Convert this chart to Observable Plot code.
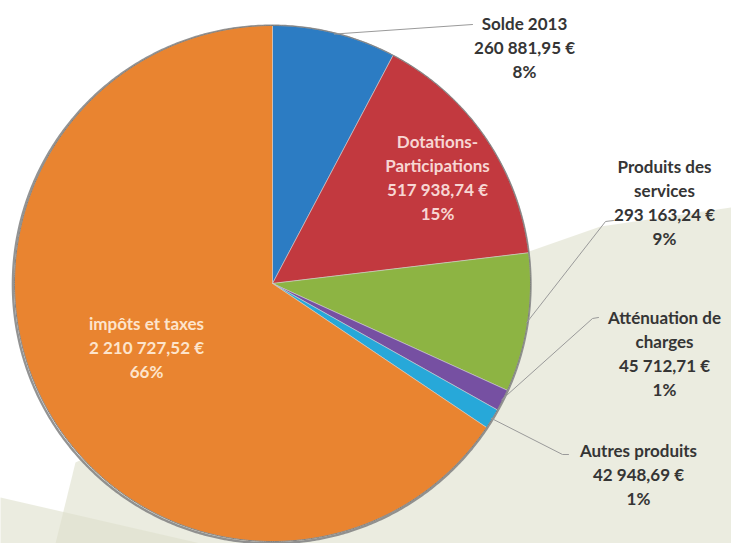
<!DOCTYPE html>
<html>
<head>
<meta charset="utf-8">
<script src="https://cdn.jsdelivr.net/npm/d3@7"></script>
<script src="https://cdn.jsdelivr.net/npm/@observablehq/plot@0.6"></script>
<style>
  html, body { margin: 0; padding: 0; background: #ffffff; }
  #chart svg { display: block; }
</style>
</head>
<body>
<div id="chart"></div>
<script>
// ---- Data ----
const categories = ["Solde 2013", "Dotations-\nParticipations", "Produits des\nservices", "Atténuation de\ncharges", "Autres produits", "impôts et taxes"];
const values = [260881.95, 517938.74, 293163.24, 45712.71, 42948.69, 2210727.52];
const valueLabels = ["260 881,95 €", "517 938,74 €", "293 163,24 €", "45 712,71 €", "42 948,69 €", "2 210 727,52 €"];
const percentLabels = ["8%", "15%", "9%", "1%", "1%", "66%"];
const colors = ["#2c7cc3", "#c2393f", "#8db443", "#7650a2", "#27a8d9", "#e98430"];

// ---- Layout (pixel-like data space) ----
const W = 731, H = 543;
const cx = 272, cy = 283, R = 258;
// label anchor positions and styles
const labelPos = [
  {x: 524, y: 46, fill: "#353535"},
  {x: 437, y: 176, fill: "#f7d6d3"},
  {x: 664, y: 201, fill: "#353535"},
  {x: 664, y: 352, fill: "#353535"},
  {x: 638, y: 473, fill: "#353535"},
  {x: 146, y: 346, fill: "#fde4cc"}
];
// leader line elbows (null = no leader)
const leaderPts = [
  [[472, 24]],
  null,
  [[605, 221], [613, 220]],
  [[592, 318], [598, 317]],
  [[562, 454], [568, 454]],
  null
];

// ---- Pie geometry from the data ----
const total = d3.sum(values);
let acc = 0;
const slices = values.map((v, i) => {
  const a0 = acc / total * 2 * Math.PI;
  acc += v;
  const a1 = acc / total * 2 * Math.PI;
  return {i, a0, a1, mid: (a0 + a1) / 2};
});
const pt = (a, r) => ({x: cx + r * Math.sin(a), y: cy - r * Math.cos(a)});
function slicePoly(s) {
  const pts = [{x: cx, y: cy}];
  const n = Math.max(2, Math.ceil((s.a1 - s.a0) / (Math.PI / 360)));
  for (let k = 0; k <= n; k++) pts.push(pt(s.a0 + (s.a1 - s.a0) * k / n, R));
  pts.push({x: cx, y: cy});
  return pts;
}
const circlePts = d3.range(0, 721).map(k => pt(k / 720 * 2 * Math.PI, R));
const shadowPts = d3.range(0, 721).map(k => {
  const p = pt(k / 720 * 2 * Math.PI, R + 0.8);
  return {x: p.x - 0.8, y: p.y + 1};
});

// background shapes
const bgA = [{x:75,y:462},{x:520,y:254},{x:600,y:226},{x:731,y:207},{x:731,y:543},{x:55,y:543},{x:75,y:462}];
const bgB = [{x:0,y:497},{x:200,y:543},{x:0,y:543},{x:0,y:497}];

const labelData = categories.map((c, i) => ({
  text: c + "\n" + valueLabels[i] + "\n" + percentLabels[i],
  x: labelPos[i].x, y: labelPos[i].y, fill: labelPos[i].fill
}));

const marks = [
  Plot.line(bgA, {x: "x", y: "y", fill: "#dde0cb", fillOpacity: 0.6, stroke: "none", curve: "linear"}),
  Plot.line(bgB, {x: "x", y: "y", fill: "#dde0cb", fillOpacity: 0.6, stroke: "none", curve: "linear"}),
  Plot.line(shadowPts, {x: "x", y: "y", stroke: "#808080", strokeWidth: 2.4, strokeOpacity: 0.85}),
];
slices.forEach(s => {
  marks.push(Plot.line(slicePoly(s), {x: "x", y: "y", fill: colors[s.i], stroke: "#d0d0d0", strokeWidth: 0.8, strokeOpacity: 0.7, curve: "linear"}));
});
marks.push(Plot.line(circlePts, {x: "x", y: "y", stroke: "#777777", strokeWidth: 1, strokeOpacity: 0.85}));
leaderPts.forEach((l, i) => {
  if (!l) return;
  const start = pt(slices[i].mid, R - 1);
  const pts = [start, ...l.map(([x, y]) => ({x, y}))];
  marks.push(Plot.line(pts, {x: "x", y: "y", stroke: "#9a9a9a", strokeWidth: 1}));
});
marks.push(Plot.text(labelData, {
  x: "x", y: "y", text: "text", fill: d => d.fill,
  fontSize: 17, fontWeight: "bold", lineHeight: 1.42, textAnchor: "middle", lineAnchor: "middle"
}));

const chart = Plot.plot({
  width: W, height: H,
  margin: 0,
  style: {fontFamily: "Lato, 'Open Sans', sans-serif", background: "#ffffff"},
  x: {domain: [0, W], axis: null},
  y: {domain: [H, 0], axis: null},
  marks
});
document.getElementById("chart").appendChild(chart);
</script>
</body>
</html>
